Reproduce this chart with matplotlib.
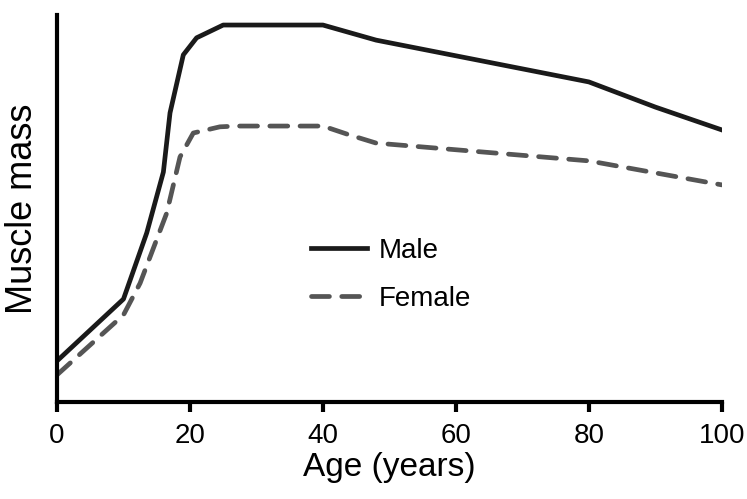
import matplotlib.pyplot as plt

plt.rcParams['font.family'] = ['Liberation Sans', 'DejaVu Sans']

# age (years) and muscle mass (arbitrary units, 0-100)
male_age = [0, 10, 13.5, 16, 17, 19, 21, 25, 40, 48, 80, 90, 100]
male_mass = [10.6, 26.6, 43.7, 59.4, 74.7, 89.7, 94.1, 97.4, 97.4, 93.5, 82.7, 76.2, 70.3]

female_age = [0, 10, 12.5, 16.5, 18.5, 20.5, 24.5, 27, 40, 44, 48, 80, 100]
female_mass = [7.0, 22.5, 30.7, 48.8, 63.3, 69.5, 71.1, 71.3, 71.3, 69.0, 66.9, 62.3, 56.1]

xticks = [0, 20, 40, 60, 80, 100]

fig = plt.figure(figsize=(7.47, 4.99), dpi=100)
ax = fig.add_axes([0.0763, 0.1944, 0.890, 0.7756])

ax.plot(male_age, male_mass, color='#1a1a1a', lw=3.4, label='Male', solid_joinstyle='round')
ax.plot(female_age, female_mass, color='#555555', lw=3.4, dashes=(3.8, 2.6),
        dash_capstyle='round', label='Female')

ax.set_xlim(0, 100)
ax.set_ylim(0, 100)
ax.set_xticks(xticks)
ax.set_yticks([])
for s in ['top', 'right']:
    ax.spines[s].set_visible(False)
for s in ['left', 'bottom']:
    ax.spines[s].set_linewidth(3)
    ax.spines[s].set_color('black')
ax.tick_params(axis='x', length=7, width=3, labelsize=20, pad=8)

ax.set_xlabel('Age (years)', fontsize=24, labelpad=2)
ax.set_ylabel('Muscle mass', fontsize=26, labelpad=12)

ax.legend(loc='center', bbox_to_anchor=(0.503, 0.328), frameon=False, fontsize=20,
          handlelength=2.0, handletextpad=0.45, labelspacing=0.78)

fig.savefig('out.png', dpi=100)
